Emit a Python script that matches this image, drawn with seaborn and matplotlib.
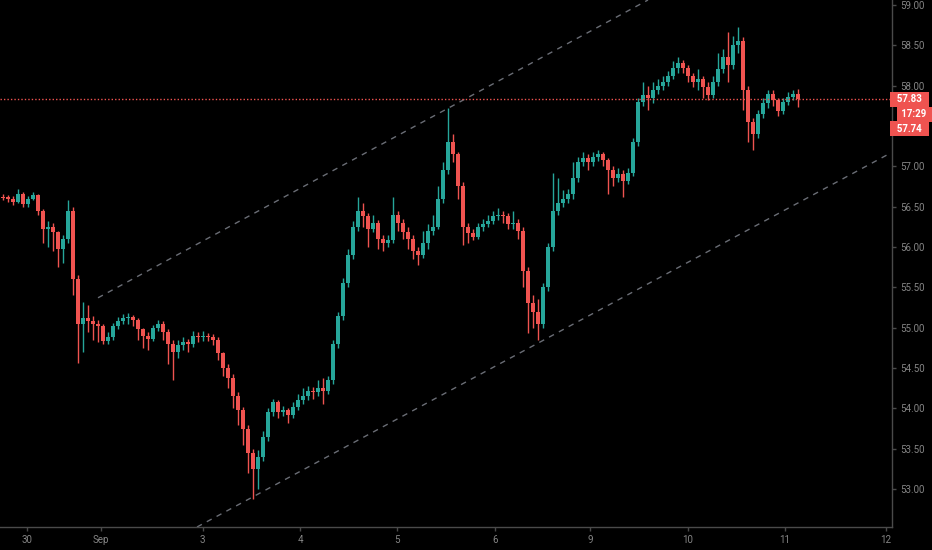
import matplotlib
matplotlib.use("Agg")
import matplotlib.pyplot as plt
import matplotlib.transforms as mtransforms
import seaborn as sns
import pandas as pd
import numpy as np

# candle data, open = previous close
first_open = 56.62
closes = [
    56.61, 56.60, 56.56, 56.66, 56.53, 56.60, 56.64, 56.45, 56.22, 56.25,
    56.18, 55.98, 56.10, 56.45, 55.60, 55.05, 55.12, 55.08, 55.05, 55.02,
    54.84, 54.88, 55.02, 55.08, 55.12, 55.13, 55.10, 54.98, 54.90, 54.86,
    55.00, 55.05, 54.95, 54.80, 54.70, 54.78, 54.82, 54.80, 54.90, 54.88,
    54.90, 54.88, 54.85, 54.68, 54.50, 54.38, 54.15, 53.98, 53.75, 53.45,
    53.25, 53.40, 53.65, 53.95, 54.08, 53.95, 53.98, 53.92, 54.02, 54.10,
    54.15, 54.22, 54.20, 54.25, 54.22, 54.35, 54.80, 55.15, 55.55, 55.90,
    56.25, 56.45, 56.38, 56.22, 56.30, 56.10, 56.05, 56.08, 56.40, 56.30,
    56.18, 56.10, 55.95, 55.90, 56.05, 56.20, 56.25, 56.60, 56.95, 57.30,
    57.15, 56.75, 56.25, 56.17, 56.12, 56.25, 56.28, 56.32, 56.38, 56.40,
    56.38, 56.28, 56.30, 56.20, 55.70, 55.30, 55.20, 55.05, 55.50, 56.00,
    56.45, 56.55, 56.60, 56.65, 56.85, 57.05, 57.10, 57.05, 57.12, 57.15,
    57.08, 56.95, 56.85, 56.90, 56.82, 56.92, 57.30, 57.80, 57.88, 57.85,
    57.95, 58.00, 58.05, 58.12, 58.22, 58.28, 58.22, 58.12, 58.05, 58.08,
    57.98, 57.88, 58.05, 58.20, 58.35, 58.25, 58.50, 58.55, 57.95, 57.55,
    57.40, 57.65, 57.78, 57.90, 57.82, 57.68, 57.80, 57.86, 57.90, 57.83,
]
highs = [
    56.66, 56.64, 56.63, 56.72, 56.68, 56.63, 56.68, 56.66, 56.47, 56.32,
    56.30, 56.20, 56.15, 56.58, 56.50, 55.65, 55.32, 55.28, 55.15, 55.10,
    55.05, 54.95, 55.06, 55.13, 55.17, 55.18, 55.16, 55.12, 55.00, 54.95,
    55.03, 55.10, 55.08, 54.98, 54.85, 54.85, 54.88, 54.86, 54.96, 54.95,
    54.96, 54.94, 54.92, 54.88, 54.70, 54.55, 54.42, 54.20, 54.02, 53.80,
    53.50, 53.48, 53.72, 54.00, 54.12, 54.10, 54.03, 54.00, 54.08, 54.18,
    54.25, 54.28, 54.26, 54.35, 54.38, 54.40, 54.85, 55.20, 55.62, 55.98,
    56.32, 56.62, 56.55, 56.42, 56.40, 56.33, 56.15, 56.15, 56.62, 56.45,
    56.35, 56.25, 56.15, 56.00, 56.20, 56.28, 56.40, 56.75, 57.05, 57.72,
    57.40, 57.18, 56.80, 56.30, 56.22, 56.30, 56.35, 56.40, 56.45, 56.48,
    56.45, 56.42, 56.45, 56.35, 56.25, 55.75, 55.40, 55.35, 55.55, 56.05,
    56.92, 56.85, 56.70, 56.72, 57.05, 57.12, 57.18, 57.15, 57.18, 57.20,
    57.18, 57.10, 57.00, 56.98, 56.95, 56.98, 57.35, 57.85, 58.05, 58.00,
    58.05, 58.08, 58.12, 58.18, 58.30, 58.35, 58.32, 58.25, 58.15, 58.20,
    58.12, 58.05, 58.12, 58.40, 58.45, 58.66, 58.62, 58.73, 58.60, 58.00,
    57.60, 57.70, 57.85, 57.95, 57.94, 57.85, 57.84, 57.92, 57.95, 57.96,
]
lows = [
    56.58, 56.56, 56.52, 56.54, 56.49, 56.50, 56.58, 56.40, 56.05, 56.00,
    55.95, 55.75, 55.80, 56.05, 55.40, 54.56, 54.70, 54.95, 54.85, 54.82,
    54.80, 54.80, 54.85, 54.98, 55.04, 55.05, 55.02, 54.85, 54.75, 54.72,
    54.83, 54.96, 54.85, 54.55, 54.35, 54.62, 54.72, 54.70, 54.76, 54.82,
    54.84, 54.83, 54.78, 54.60, 54.40, 54.25, 54.00, 53.80, 53.55, 53.20,
    52.88, 53.00, 53.35, 53.60, 53.90, 53.88, 53.90, 53.82, 53.88, 53.98,
    54.05, 54.10, 54.12, 54.15, 54.05, 54.18, 54.30, 54.75, 55.10, 55.50,
    55.85, 56.20, 56.25, 56.00, 56.18, 55.98, 55.95, 56.00, 56.05, 56.20,
    56.10, 55.98, 55.85, 55.78, 55.86, 55.98, 56.15, 56.22, 56.55, 56.90,
    57.05, 56.60, 56.02, 56.05, 56.08, 56.10, 56.20, 56.25, 56.28, 56.33,
    56.30, 56.22, 56.22, 56.10, 55.50, 54.93, 55.00, 54.85, 55.00, 55.45,
    55.95, 56.40, 56.50, 56.55, 56.60, 56.80, 57.00, 56.95, 57.00, 57.06,
    57.00, 56.65, 56.75, 56.80, 56.62, 56.78, 56.88, 57.25, 57.75, 57.70,
    57.78, 57.90, 57.95, 58.00, 58.08, 58.15, 58.15, 58.05, 57.98, 57.95,
    57.85, 57.82, 57.85, 58.00, 58.15, 58.05, 58.20, 58.40, 57.70, 57.30,
    57.20, 57.35, 57.60, 57.72, 57.75, 57.62, 57.65, 57.76, 57.82, 57.74,
]

# x-axis day labels and where they fall on the candle index
day_labels = ["30", "Sep", "3", "4", "5", "6", "9", "10", "11", "12"]
day_pos = [4.85, 19.7, 40.0, 59.5, 78.9, 98.5, 117.5, 137.1, 156.5, 176.7]

# price scale ticks (57.50 is hidden under the price tags)
price_ticks = [53.0, 53.5, 54.0, 54.5, 55.0, 55.5, 56.0, 56.5, 57.0, 57.5,
               58.0, 58.5, 59.0]
hidden_ticks = [57.5]

# channel lines (two points each: candle index, price)
upper_x = [19.1, 129.1]
upper_y = [55.37, 59.06]
lower_x = [38.9, 177.5]
lower_y = [52.53, 57.16]

last_price = 57.83
other_price = "57.74"
countdown = "17:29"

up_col = "#26a69a"
down_col = "#ef5350"
bg = "#000000"
grid_col = "#4a4a4a"
text_col = "#858585"

sns.set_theme(style="dark", rc={
    "axes.facecolor": bg,
    "figure.facecolor": bg,
    "axes.edgecolor": grid_col,
})
plt.rcParams["font.family"] = ["Roboto", "DejaVu Sans"]

df = pd.DataFrame({"close": closes, "high": highs, "low": lows})
df["open"] = [first_open] + closes[:-1]
df["x"] = np.arange(len(df))
df["up"] = df["close"] >= df["open"]
df["color"] = np.where(df["up"], up_col, down_col)
df["bottom"] = df[["open", "close"]].min(axis=1)
df["height"] = (df["close"] - df["open"]).abs().clip(lower=0.015)

fig = plt.figure(figsize=(9.32, 5.5), dpi=100)
ax = fig.add_axes([0, 23 / 550, 892 / 932, 527 / 550])

# wicks then bodies
ax.vlines(df["x"], df["low"], df["high"], colors=df["color"], lw=1)
ax.bar(df["x"], df["height"], bottom=df["bottom"], width=0.8,
       color=df["color"], linewidth=0)

# channel
chan = pd.DataFrame({
    "x": upper_x + lower_x,
    "y": upper_y + lower_y,
    "line": ["upper", "upper", "lower", "lower"],
})
sns.lineplot(data=chan, x="x", y="y", units="line", estimator=None,
             color="#6a6d75", lw=1, dashes=False, ax=ax, linestyle=(0, (4, 4)))

# last price line
ax.axhline(last_price, color=down_col, lw=1, linestyle=(0, (1, 1.5)))

ax.set_xlim(-0.5, 177.9)
ax.set_ylim(52.53, 59.06)
ax.set_xlabel("")
ax.set_ylabel("")
ax.grid(False)

ax.yaxis.tick_right()
ax.set_yticks(price_ticks)
ax.set_yticklabels(["" if v in hidden_ticks else f"{v:.2f}"
                    for v in price_ticks])
ax.set_xticks(day_pos)
ax.set_xticklabels(day_labels)
ax.tick_params(axis="both", length=3, width=1, color=grid_col,
               labelcolor=text_col, labelsize=7, pad=3)
ax.tick_params(axis="y", right=True, left=False)
ax.tick_params(axis="x", bottom=True)

for side in ["left", "top"]:
    ax.spines[side].set_visible(False)
for side in ["right", "bottom"]:
    ax.spines[side].set_color(grid_col)
    ax.spines[side].set_linewidth(1)

# price labels on the right scale
trans = mtransforms.blended_transform_factory(ax.transAxes, ax.transData)
box = dict(boxstyle="square,pad=0.25", fc=down_col, ec="none")
ax.text(1.0, last_price, f"  {last_price:.2f}  ", transform=trans,
        ha="left", va="center", color="white", fontsize=7,
        fontweight="bold", bbox=box, clip_on=False)
ax.annotate(f" {countdown}  ", xy=(1.0, last_price), xycoords=trans,
            xytext=(5, -10.8), textcoords="offset points",
            ha="left", va="center", color="white", fontsize=7,
            fontweight="bold", bbox=box, annotation_clip=False)
ax.annotate(f"  {other_price}  ", xy=(1.0, last_price), xycoords=trans,
            xytext=(0, -21.2), textcoords="offset points",
            ha="left", va="center", color="white", fontsize=7,
            fontweight="bold", bbox=box, annotation_clip=False)

fig.savefig("out.png", dpi=100, facecolor=bg)
